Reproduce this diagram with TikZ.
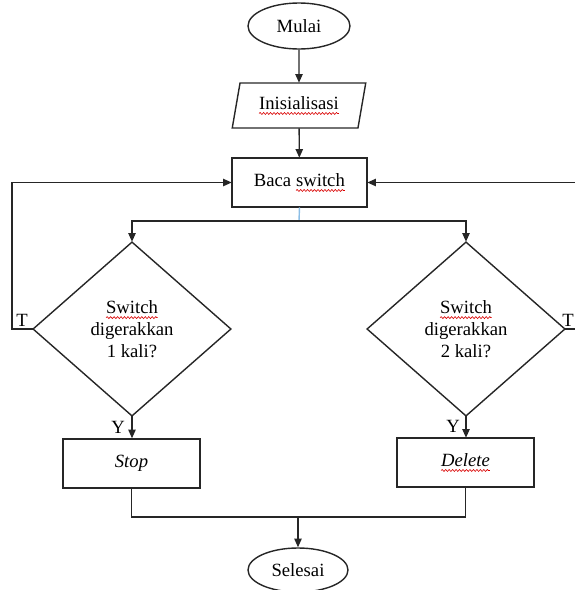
\documentclass[tikz,border=0pt]{standalone}
\usepackage{fontspec}
\setmainfont{Liberation Serif}
\usetikzlibrary{shapes.geometric,arrows.meta,decorations.pathmorphing}
\definecolor{garis}{gray}{0.15}
\definecolor{birumuda}{RGB}{140,190,230}
\newcommand\redwave[1]{\tikz[baseline=(w.base)]{%
  \node[shape=rectangle,draw=none,minimum size=0pt,inner sep=0pt,outer sep=0pt,anchor=base] (w) {#1};
  \draw[red!85!black,line width=0.45pt,decorate,decoration={snake,amplitude=0.75pt,segment length=2.6pt}]
    ([yshift=-3.2pt]w.base west) -- ([yshift=-3.2pt]w.base east);}}
\begin{document}
\begin{tikzpicture}[x=0.75pt,y=-0.75pt,line width=1.05pt,
    every node/.style={font=\fontsize{14}{16.5}\selectfont},
    terminal/.style={ellipse,draw=garis,minimum width=76.5pt,minimum height=34.5pt,inner sep=0pt},
    io/.style={trapezium,trapezium left angle=74,trapezium right angle=106,trapezium stretches=true,
      draw=garis,minimum width=100.5pt,minimum height=33.75pt,inner sep=0pt},
    process/.style={rectangle,draw=garis,minimum width=101.25pt,minimum height=36.75pt,inner sep=0pt},
    decision/.style={diamond,draw=garis,minimum width=148.5pt,minimum height=130.5pt,inner sep=0pt,align=center},
    line/.style={draw=garis},
    arrow/.style={line,-{Triangle[length=6.5pt,width=5.5pt]}}]
  \useasboundingbox (0,0) rectangle (575,590);
  \clip (0,0) rectangle (575,590);
  % blok
  \node[terminal] (mulai) at (299,26) {Mulai};
  \node[io] (init) at (299,105.5) {\redwave{Inisialisasi}};
  \node[process] (baca) at (299.5,182.5) {Baca \redwave{switch}};
  \node[decision] (cek1) at (132,329) {\redwave{Switch}\\digerakkan\\1 kali?};
  \node[decision] (cek2) at (466,329) {\redwave{Switch}\\digerakkan\\2 kali?};
  \node[process,minimum width=102.75pt] (stop) at (131.5,463.5) {\textit{Stop}};
  \node[process,minimum width=102.75pt] (delete) at (465.5,462.5) {\redwave{\textit{Delete}}};
  \node[terminal,minimum width=75pt,minimum height=33pt] (selesai) at (298,570) {Selesai};
  % titik bantu
  \coordinate (bagi) at (299,221);
  \coordinate (gabung) at (298,517);
  \coordinate (kiri) at (12,329);
  \coordinate (kanan) at (590,329);
  % label
  \node[anchor=south,inner sep=1pt] (t1) at (22,329) {T};
  \node[anchor=south,inner sep=1pt] (t2) at (568,329) {T};
  \node (y1) at (118,427) {Y};
  \node (y2) at (453,426) {Y};
  % garis
  \draw[arrow] (mulai) -- (init);
  \draw[arrow] (init) -- (baca);
  \draw[draw=birumuda] (baca.south) -- (bagi);
  \draw[arrow] (bagi) -| (cek1.north);
  \draw[arrow] (bagi) -| (cek2.north);
  \draw[arrow] (cek1.west) -- (kiri) |- (baca.west);
  \draw[arrow] (cek2.east) -- (kanan) |- (baca.east);
  \draw[arrow] (cek1.south) -- (cek1.south |- stop.north);
  \draw[arrow] (cek2.south) -- (cek2.south |- delete.north);
  \draw[line] (stop.south) |- (gabung) -| (delete.south);
  \draw[arrow] (gabung) -- (selesai.north);
\end{tikzpicture}
\end{document}
